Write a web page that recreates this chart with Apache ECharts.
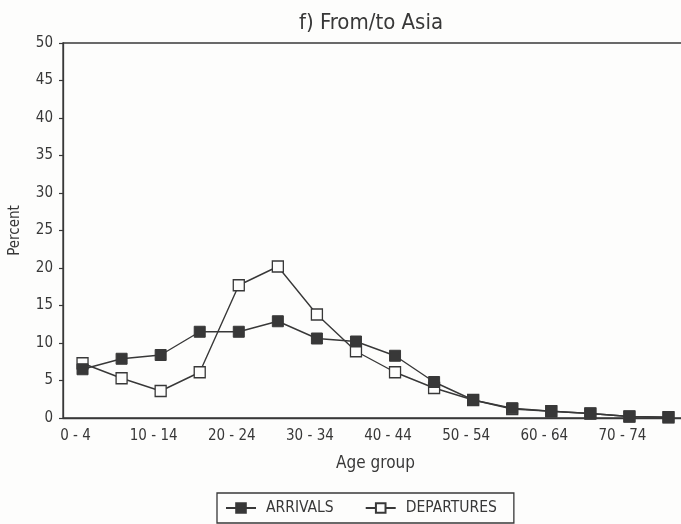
<!DOCTYPE html>
<html>
<head>
<meta charset="utf-8">
<title>From/to Asia</title>
<script src="https://cdn.jsdelivr.net/npm/echarts@6/dist/echarts.min.js"></script>
<style>
  html, body { margin: 0; padding: 0; background: #fdfdfc; overflow: hidden; }
  #chart { width: 681px; height: 524px; }
</style>
</head>
<body>
<div id="chart"></div>
<script>
// age groups on the x axis
const ageGroups = [
  "0 - 4", "5 - 9", "10 - 14", "15 - 19", "20 - 24", "25 - 29", "30 - 34", "35 - 39",
  "40 - 44", "45 - 49", "50 - 54", "55 - 59", "60 - 64", "65 - 69", "70 - 74", "75+"
];

// percent of migrants per age group
const arrivals = [6.5, 7.9, 8.4, 11.5, 11.5, 12.9, 10.6, 10.2, 8.3, 4.8, 2.4, 1.3, 0.9, 0.6, 0.2, 0.1];
const departures = [7.3, 5.3, 3.6, 6.1, 17.7, 20.2, 13.8, 8.9, 6.1, 4.0, 2.4, 1.2, 0.9, 0.6, 0.2, 0.1];

const ink = "#383838";
const paper = "#fdfdfc";
const font = "'Liberation Sans Narrow', 'DejaVu Sans Condensed', 'DejaVu Sans', sans-serif";

const chart = echarts.init(document.getElementById("chart"));

chart.setOption({
  backgroundColor: paper,
  animation: false,
  textStyle: { fontFamily: font, color: ink },
  title: {
    text: "f) From/to Asia",
    left: 366,
    top: 7,
    textAlign: "center",
    textStyle: { fontFamily: font, fontSize: 22, fontWeight: "normal", color: ink }
  },
  grid: {
    left: 63,
    top: 43,
    width: 625, // right edge runs off the page, as in the scan
    bottom: 106,
    outerBoundsMode: "none",
    containLabel: false,
    show: true,
    borderColor: ink,
    borderWidth: 1.3,
    backgroundColor: "transparent"
  },
  legend: {
    data: ["ARRIVALS", "DEPARTURES"],
    left: 217,
    top: 493,
    padding: [7, 17, 7, 8],
    itemGap: 31,
    itemWidth: 30,
    itemHeight: 12,
    borderColor: ink,
    borderWidth: 1.3,
    textStyle: { fontFamily: font, fontSize: 15.5, color: ink, padding: [0, 0, 0, 5] }
  },
  xAxis: {
    type: "category",
    data: ageGroups,
    boundaryGap: true,
    name: "Age group",
    nameLocation: "middle",
    nameGap: 37,
    nameTextStyle: { fontFamily: font, fontSize: 17, color: ink },
    axisLine: { lineStyle: { color: ink, width: 1.3 } },
    axisTick: { alignWithLabel: true, interval: 0, length: 4, lineStyle: { color: ink, width: 1.2 } },
    axisLabel: {
      interval: 1,
      margin: 11,
      fontFamily: font,
      fontSize: 15,
      color: ink,
      padding: [0, 14, 0, 0]
    },
    splitLine: { show: false }
  },
  yAxis: {
    type: "value",
    min: 0,
    max: 50,
    interval: 5,
    name: "Percent",
    nameLocation: "middle",
    nameGap: 40,
    nameTextStyle: { fontFamily: font, fontSize: 15, color: ink },
    axisLine: { show: true, lineStyle: { color: ink, width: 1.3 } },
    axisTick: { show: true, length: 4, lineStyle: { color: ink, width: 1.2 } },
    axisLabel: { margin: 10, fontFamily: font, fontSize: 15, color: ink },
    splitLine: { show: false }
  },
  series: [
    {
      name: "ARRIVALS",
      type: "line",
      data: arrivals,
      symbol: "rect",
      symbolSize: 11,
      lineStyle: { color: ink, width: 1.4 },
      itemStyle: { color: ink, borderColor: ink, borderWidth: 1 },
      z: 3
    },
    {
      name: "DEPARTURES",
      type: "line",
      data: departures,
      symbol: "rect",
      symbolSize: 11,
      lineStyle: { color: ink, width: 1.4 },
      itemStyle: { color: paper, borderColor: ink, borderWidth: 1.3 },
      z: 2
    }
  ]
});
</script>
</body>
</html>
